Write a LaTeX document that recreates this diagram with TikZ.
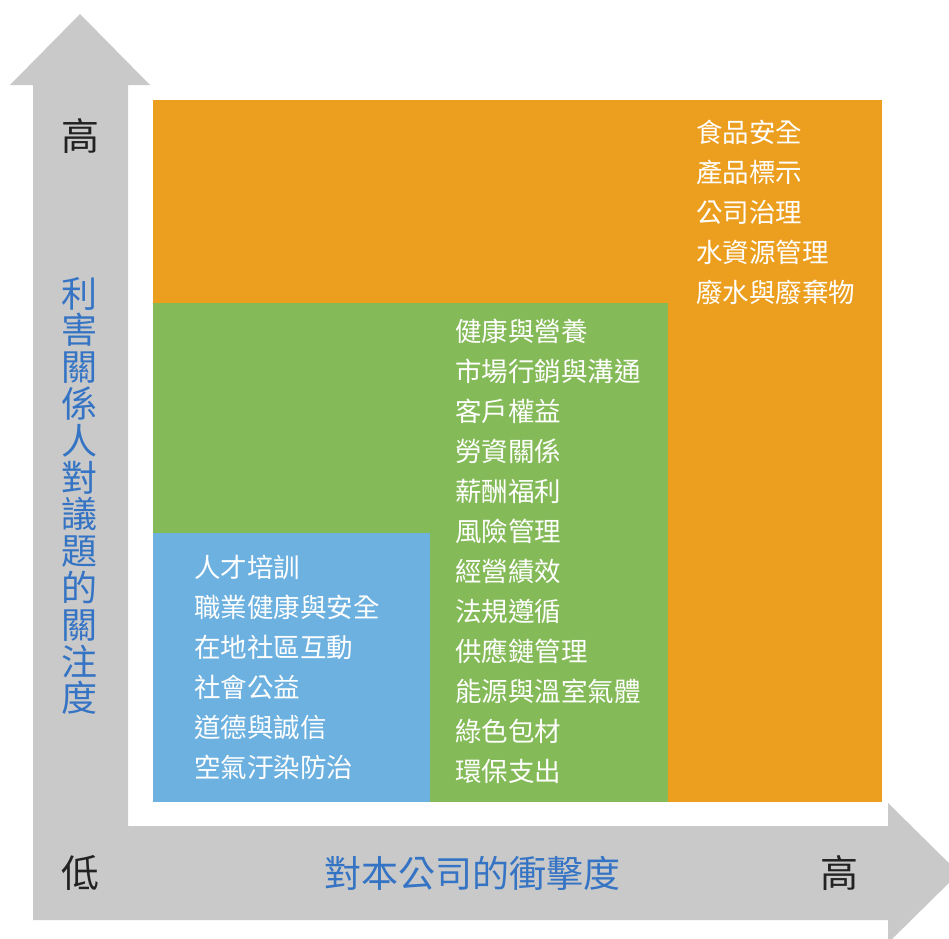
\documentclass[tikz,border=0pt]{standalone}
\usepackage{fontspec}
\setmainfont{Noto Sans CJK TC}
\definecolor{axisgray}{HTML}{C9C9C9}
\definecolor{orangebox}{HTML}{EC9F1E}
\definecolor{greenbox}{HTML}{84BB58}
\definecolor{bluebox}{HTML}{6DB1E0}
\definecolor{labelblue}{HTML}{3574C4}
\definecolor{darktext}{HTML}{222222}
\tikzset{
  item/.style={anchor=west, inner sep=0pt, text=white, font=\fontsize{26.5}{30}\selectfont},
  axislabel/.style={inner sep=0pt, text=labelblue, font=\fontsize{37}{36.8}\selectfont},
  endlabel/.style={inner sep=0pt, text=darktext, font=\fontsize{38}{40}\selectfont}
}
\begin{document}
\begin{tikzpicture}[x=1pt,y=-1pt]
\useasboundingbox (0,0) rectangle (949,938);
\fill[white] (0,0) rectangle (949,938);
\begin{scope}
\clip (0,0) rectangle (949,938);
\fill[axisgray] (33,920) -- (33,85) -- (10,85) -- (80,14) -- (150,85) -- (128,85)
  -- (128,826) -- (888,826) -- (888,803) -- (959,873) -- (888,943) -- (888,920) -- cycle;
\end{scope}
\fill[orangebox] (153,100) rectangle (882,802);
\fill[greenbox] (153,303) rectangle (668,802);
\fill[bluebox] (153,533) rectangle (430,802);

\foreach \t [count=\i] in {食品安全,產品標示,公司治理,水資源管理,廢水與廢棄物}
  \node[item] (o\i) at (696,{132+40*(\i-1)}) {\t};
\foreach \t [count=\i] in {健康與營養,市場行銷與溝通,客戶權益,勞資關係,薪酬福利,風險管理,經營績效,法規遵循,供應鏈管理,能源與溫室氣體,綠色包材,環保支出}
  \node[item] (g\i) at (455,{331.5+40*(\i-1)}) {\t};
\foreach \t [count=\i] in {人才培訓,職業健康與安全,在地社區互動,社會公益,道德與誠信,空氣汙染防治}
  \node[item] (b\i) at (194,{567+40*(\i-1)}) {\t};

\node[axislabel, align=center, font=\fontsize{36}{36.8}\selectfont] (ylab) at (79,496) {利\\害\\關\\係\\人\\對\\議\\題\\的\\關\\注\\度};
\node[axislabel] (xlab) at (472,873) {對本公司的衝擊度};
\node[endlabel] (yhigh) at (80,136) {高};
\node[endlabel] (low) at (80,873) {低};
\node[endlabel] (xhigh) at (839,873) {高};
\end{tikzpicture}
\end{document}
